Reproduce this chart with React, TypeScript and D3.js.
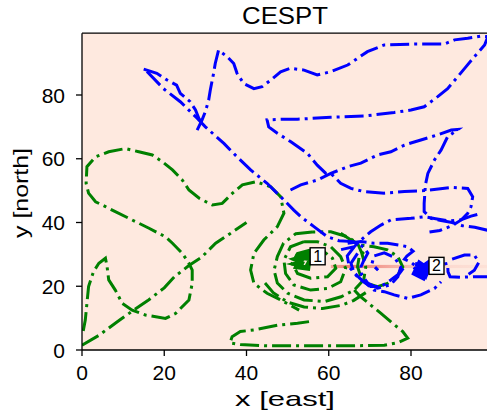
import React from 'react';
import { scaleLinear, line } from 'd3';

type Pt = [number, number];

// agent 1 (green) trajectory pieces, [east, north]
const greenDiagonal: Pt[] = [[0, 1.5], [4, 4.5], [8.5, 8.8], [12, 12], [16, 15.5], [20, 19.5], [22.5, 23], [26, 26.5], [29, 29], [32.5, 33.5], [36, 36.5], [40, 40]];
const greenWest: Pt[] = [[0.3, 6], [0.8, 9.4], [1.6, 19.9], [2.8, 24.6], [4.1, 27.2], [5.7, 28.8], [6.1, 26.1], [6.5, 22], [8.1, 18.8], [9.8, 14.6], [12.2, 12.5], [15.4, 11], [20.3, 9.9], [22.8, 11.5], [26, 15.7], [26.8, 20.9], [26.8, 25.1], [26, 27.2], [24.4, 30.3], [22, 33.5], [20.3, 35.5], [16.3, 38.2], [12.2, 40.8], [8.1, 43.4], [5.7, 45], [3.3, 46.5], [1.6, 49.2], [1, 52.3], [1.2, 57.5], [3.3, 60.6], [6.5, 62.2], [10.6, 63.2], [13.8, 62.2], [17.1, 61.2], [19.5, 59.1], [22, 56.5], [24.4, 53.3], [26, 50.2], [28.5, 47.6], [31.7, 45.5], [34.1, 46], [36.6, 49.2], [39, 51.8], [42.3, 52.8], [45.9, 51.2], [48.3, 48.1], [49.1, 42.9], [47.5, 38.7], [44.2, 34.5], [41.8, 30.3], [41, 25.1], [41.8, 20.9], [45, 17.8], [48.3, 15.7], [52.8, 12.5]];
const greenSouth: Pt[] = [[55.2, 8.9], [52.4, 8.4], [47.5, 7.8], [41.8, 6.3], [38.5, 5.8], [36.5, 4.2], [36, 2.2], [38.5, 1.7], [45, 1.3], [55, 1.3], [65, 1.3], [73.5, 1.5], [76.8, 2.3], [79.2, 3.7], [78, 5.8], [75.5, 8.4], [72.7, 11.5], [70.2, 14.1], [67.5, 17], [66.2, 18.8]];
const greenOuter: Pt[] = [[56, 37], [52, 36.5], [49, 33.5], [47.5, 29.3], [46.7, 25], [47.5, 21], [50, 17.8], [54, 15.7], [59, 15.2], [63, 16.7], [66.2, 18.8], [68.5, 22], [69, 26], [68, 30.5], [67, 33.5], [64.6, 35.5], [60.5, 37.1], [56, 37]];
const greenMiddle: Pt[] = [[54, 34], [50.7, 32.4], [49.1, 28.2], [49.5, 24], [51.5, 20.4], [55.6, 18.8], [59.7, 19.3], [62.9, 21.4], [64.1, 25.6], [62.9, 29.3], [60.5, 32.4], [57.2, 34], [54, 34]];
const greenInner: Pt[] = [[55.6, 31.4], [52.4, 30.3], [51.1, 27.2], [52.4, 24], [55.6, 22.5], [59.7, 23], [61.7, 25.6], [60.9, 28.8], [58.9, 30.8], [55.6, 31.4]];
const greenLower: Pt[] = [[44.5, 21], [46.5, 18], [50, 15], [54, 13.5], [58.5, 13], [63, 14], [66, 15.5], [69, 18]];
const greenEast: Pt[] = [[62.9, 36.6], [65.4, 34.5], [67.8, 32.9], [71, 32.4], [74.3, 31.4], [76.8, 29.3], [78, 26.1], [76.8, 23.5], [74.3, 20.9], [71.9, 19.9], [69.4, 20.9], [67.8, 23], [67, 26.1], [67.4, 29.3], [69, 31.4]];
const greenBlob: Pt[] = [[52, 29.5], [55, 30.5], [53, 27.5], [51.5, 27], [54.5, 26], [55.5, 28.5], [53, 29], [52, 26], [55, 25.5], [55.5, 30], [51.5, 28.5], [54, 27]];

// agent 2 (blue) trajectory pieces
const blueNorthWest: Pt[] = [[15, 88.1], [18.2, 86.8], [20.7, 84.7], [23, 83.1], [23.9, 80.5], [26.3, 77.9], [27.6, 75.3], [28.4, 72.7], [29.3, 71]];
const blueDiagonal: Pt[] = [[15.8, 87.4], [19.8, 82], [23.9, 77.9], [28, 72.7], [30, 70], [34.5, 64.8], [37.7, 60.6], [41, 56.5], [45, 52.3], [48.3, 48.1], [51.5, 43.9], [53.5, 41.5], [56.4, 38.7], [59.7, 35.5], [62.5, 34.3], [66, 34], [68.5, 32.3], [69.5, 30.4], [68.5, 28], [67.8, 26], [68, 23.5], [69.5, 21], [71.9, 19.4], [75.1, 20.5], [76.8, 23], [77.5, 26], [76, 29], [73.5, 30.5], [71, 29.5], [70.5, 27], [72, 25]];
const blueNorth: Pt[] = [[28, 69], [29.2, 72.2], [30, 74.8], [30.8, 78.4], [31.2, 81.6], [32, 86.8], [32.4, 89.9], [33.2, 94.1], [35.3, 92], [36.9, 89.9], [37.7, 86.8], [39.3, 83.6], [41.8, 82], [43.8, 82.6], [45.9, 84.7], [48.3, 87.3], [50.7, 88.4], [54, 87.8], [57.2, 86.3], [60.5, 87.3], [64.6, 89.4], [69.4, 93.6], [73.5, 95.7], [80.8, 96], [88.1, 96], [90.6, 97.3], [93.8, 97.8], [97, 98.5], [98.7, 98.3], [97.9, 95.7], [95.4, 92], [93.4, 88.9], [91.4, 85.8], [88.9, 82], [86.5, 79.5], [83.2, 76.3], [80, 75.3], [75.9, 74.5], [68.6, 73.4], [60.5, 73], [52.4, 72.4], [49.1, 72.4], [45, 72.2], [45.4, 70], [47.5, 68], [50.7, 65.4], [54.8, 61.7], [57.2, 58], [59.3, 55.4], [60.5, 55.4], [62.9, 52.3], [65.4, 50.7], [68.6, 49.7], [73.5, 49.2], [78.4, 49.7], [83.2, 50], [89.8, 51], [93.8, 50.7], [95, 48.1], [94.6, 45], [93.8, 42.9], [92.2, 40.8], [90, 39], [87, 37.5], [84.5, 37]];
const blueNorthEast: Pt[] = [[50.7, 50.2], [53.2, 51.8], [57.2, 53.3], [60.5, 55.4], [64.6, 57.5], [67.8, 58.6], [71.9, 61.2], [75.1, 62.2], [78.4, 64.3], [82.4, 65.9], [86.5, 67.5], [89.8, 69], [91.4, 69.2], [88.9, 66.9], [87.3, 62.7], [85.7, 59.6], [84.1, 55.4], [83.5, 51.8], [83.2, 46], [83.2, 43.4], [84.9, 41.3], [87.3, 40.6], [90, 40], [92.5, 39], [95.5, 38.5], [98.8, 37.5]];
const blueArc: Pt[] = [[63, 31.5], [66.2, 32.4], [67.8, 34.5], [70.2, 37.1], [72.7, 39.2], [75.1, 40.8], [80, 41.3], [83.2, 41.8], [86, 41.2], [89, 40.5], [92, 40.8], [94.6, 42], [97, 42.8]];
const blueSouth: Pt[] = [[66.2, 32.4], [64.5, 29.5], [65, 26], [67.5, 22.5], [71, 18.8], [73.5, 18.3], [75.9, 17.3], [79.2, 16.2], [82.4, 17.3], [85.7, 19.3], [87.3, 21.4]];
const blueTangle: Pt[] = [[64.6, 33.5], [67.8, 34], [71, 33.5], [74.3, 33.5], [77.2, 32.9], [79.2, 32.4], [80.5, 31], [79, 29.5], [78.4, 28.5], [80, 27.5], [81.5, 26], [82.5, 25]];
const blueBlob: Pt[] = [[81, 27], [84, 26.5], [82, 24], [80.8, 26], [83.5, 23], [84.3, 25.5], [82, 27.5], [80.7, 24], [83, 22.5], [84, 27.3], [81.5, 25]];
const blueEast: Pt[] = [[82.5, 25], [85, 26], [88.9, 27.2], [89, 24.5], [89.5, 23], [92, 22.8], [95.4, 23], [98.8, 23]];
const blueHook: Pt[] = [[90, 28.5], [93, 29.8], [95.4, 29.8], [96.5, 27.5], [95.4, 25], [94, 23.8]];
const blueInner: Pt[] = [[67, 30.3], [65.4, 27.2], [66.2, 24], [67.8, 22], [70.2, 19.9], [72.7, 19.9], [75.1, 22], [77.2, 24], [78.4, 26.1]];

const greenRuns = [greenDiagonal, greenWest, greenSouth, greenOuter, greenMiddle, greenInner, greenLower, greenEast];
const blueRuns = [blueNorthWest, blueDiagonal, blueNorth, blueNorthEast, blueArc, blueSouth, blueTangle, blueEast, blueHook, blueInner];

const agentNames = ['1', '2'];
const agentX = [57.3, 86.2];
const agentY = [29.4, 26.4];

const xTicks = [0, 20, 40, 60, 80];
const yTicks = [0, 20, 40, 60, 80];
const xMax = 99.4;
const yMax = 99.4;
const stripeY = 26.2;
const stripeStart = 60.5;

const App = () => {
  const x = scaleLinear().domain([0, xMax]).range([82, 82 + xMax * 4.1125]);
  const y = scaleLinear().domain([0, yMax]).range([350, 350 - yMax * 3.1875]);
  const path = line<Pt>().x((d) => x(d[0])).y((d) => y(d[1]));
  const dash = '19,5,3,5';
  const font = 'Liberation Sans, Arial, sans-serif';

  return (
    <div style={{ position: 'absolute', left: 0, top: 0 }}>
      <svg width={487} height={418} style={{ display: 'block' }}>
        <defs>
          <clipPath id="plot">
            <rect x={x(0)} y={y(yMax)} width={x(xMax) - x(0)} height={y(0) - y(yMax)} />
          </clipPath>
          <linearGradient id="stripe" x1="0" x2="1" y1="0" y2="0">
            <stop offset="0%" stopColor="#e8574c" stopOpacity={0.45} />
            <stop offset="12%" stopColor="#e8574c" stopOpacity={0.75} />
            <stop offset="40%" stopColor="#e8574c" stopOpacity={0.4} />
            <stop offset="65%" stopColor="#e8574c" stopOpacity={0.12} />
            <stop offset="100%" stopColor="#e8574c" stopOpacity={0.05} />
          </linearGradient>
        </defs>
        <rect x={x(0)} y={y(yMax)} width={x(xMax) - x(0)} height={y(0) - y(yMax)} fill="#fee9df" />
        <g clipPath="url(#plot)">
          <rect x={x(stripeStart)} y={y(stripeY) - 1.6} width={x(xMax) - x(stripeStart)} height={3.2} fill="url(#stripe)" />
          {greenRuns.map((r, i) => (
            <path key={'g' + i} d={path(r) || ''} fill="none" stroke="#008000" strokeWidth={3} strokeDasharray={dash} />
          ))}
          <path d={path(greenBlob) || ''} fill="none" stroke="#008000" strokeWidth={4} />
          {blueRuns.map((r, i) => (
            <path key={'b' + i} d={path(r) || ''} fill="none" stroke="#0000ff" strokeWidth={3} strokeDasharray={dash} />
          ))}
          <path d={path(blueBlob) || ''} fill="none" stroke="#0000ff" strokeWidth={4} />
          {agentNames.map((n, i) => (
            <g key={n} transform={`translate(${x(agentX[i])},${y(agentY[i])})`}>
              <rect x={-7.5} y={-8.5} width={15} height={17} fill="#ffffff" stroke="#000" strokeWidth={1.4} />
              <text x={0} y={5.5} textAnchor="middle" fontFamily={font} fontSize={16}>{n}</text>
            </g>
          ))}
        </g>
        <line x1={x(0)} x2={x(0)} y1={y(0)} y2={y(yMax)} stroke="#000" strokeWidth={1.3} />
        <line x1={x(0)} x2={x(xMax)} y1={y(0)} y2={y(0)} stroke="#000" strokeWidth={1.3} />
        <line x1={x(0)} x2={x(xMax)} y1={y(yMax)} y2={y(yMax)} stroke="#000" strokeWidth={1.3} />
        {xTicks.map((t) => (
          <g key={'x' + t}>
            <line x1={x(t)} x2={x(t)} y1={y(0)} y2={y(0) + 6} stroke="#000" strokeWidth={1.3} />
            <text x={x(t)} y={380} textAnchor="middle" fontFamily={font} fontSize={21}>{t}</text>
          </g>
        ))}
        {yTicks.map((t) => (
          <g key={'y' + t}>
            <line x1={x(0) - 6} x2={x(0)} y1={y(t)} y2={y(t)} stroke="#000" strokeWidth={1.3} />
            <text x={65} y={y(t) + 7.5} textAnchor="end" fontFamily={font} fontSize={21}>{t}</text>
          </g>
        ))}
        <text x={285} y={24} textAnchor="middle" fontFamily={font} fontSize={23} textLength={86} lengthAdjust="spacingAndGlyphs">CESPT</text>
        <text x={285} y={406} textAnchor="middle" fontFamily={font} fontSize={21} textLength={100} lengthAdjust="spacingAndGlyphs">x [east]</text>
        <text transform="translate(28,193) rotate(-90)" textAnchor="middle" fontFamily={font} fontSize={21} textLength={90} lengthAdjust="spacingAndGlyphs">y [north]</text>
      </svg>
    </div>
  );
};

export default App;
